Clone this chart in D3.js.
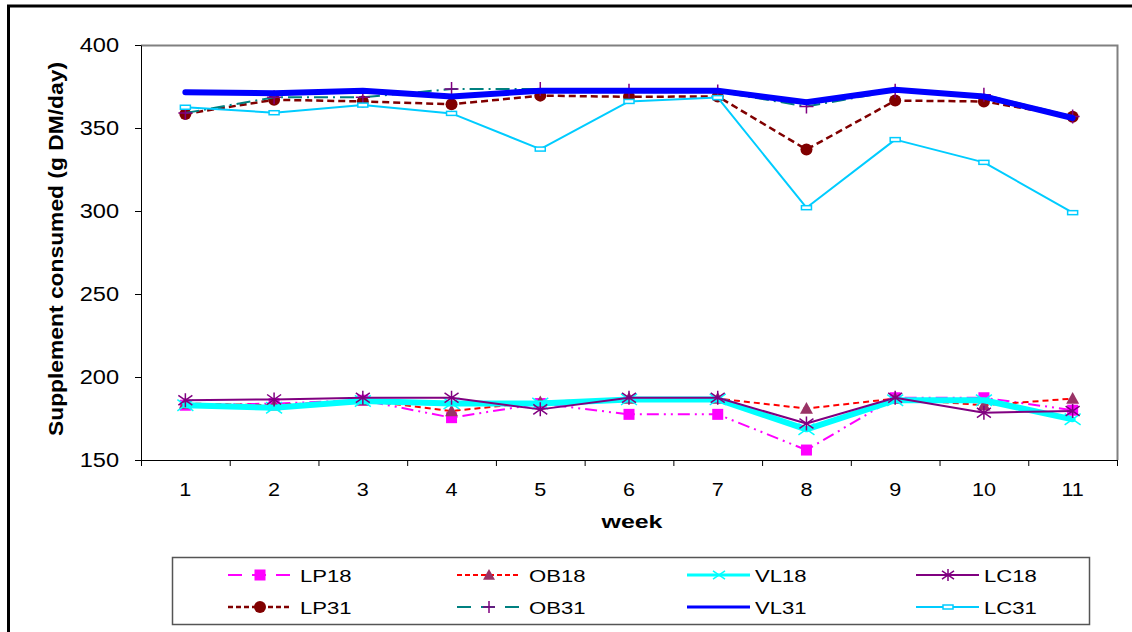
<!DOCTYPE html>
<html><head><meta charset="utf-8">
<script src="https://cdn.jsdelivr.net/npm/d3@7"></script>
<style>body{margin:0;background:#fff;} svg{display:block;font-family:"Liberation Sans",Arial,sans-serif;}</style>
</head><body>
<svg id="c" width="1132" height="632"></svg>
<script>
const weeks = [1,2,3,4,5,6,7,8,9,10,11];
const yTicks = [150,200,250,300,350,400];
const LP18 = [183,184,186,175.5,184,177.5,177.5,156,187.5,187.5,180];
const OB18 = [184,183,186,179.5,185,187,187,181,187,183,187];
const VL18 = [183,181.5,185.5,184,184,186.5,186.5,168.5,186,186,174.5];
const LC18 = [186,186.5,187.5,187.5,180.5,187.5,187.5,172,187.5,178.5,179.5];
const LP31 = [358.5,367,366,364.3,369.5,368.8,369,337,366.5,366,356.8];
const OB31 = [359,368.5,368.5,373.5,373.5,372.5,372,363,372.5,370,357];
const VL31 = [371.5,371,372.5,369,372.5,372.5,372.5,365.5,373,369,356];
const LC31 = [362.5,359.2,363.8,358.8,337.3,366,368.3,302,343,329.3,299];
const seriesNames = ["LP18","OB18","VL18","LC18","LP31","OB31","VL31","LC31"];
const seriesData = [LP18,OB18,VL18,LC18,LP31,OB31,VL31,LC31];

const styles = {
  LP18:{stroke:"#FF00FF",w:2,dash:"12,5,2,5,2,5",marker:"square",mfill:"#FF00FF",ms:11},
  OB18:{stroke:"#FF0000",w:2,dash:"6,4",marker:"triangle",mfill:"#993366",ms:13},
  VL18:{stroke:"#00FFFF",w:6,dash:null,marker:"x",mfill:"#00FFFF",ms:16},
  LC18:{stroke:"#800080",w:2,dash:null,marker:"asterisk",mfill:"#800080",ms:14},
  LP31:{stroke:"#800000",w:2.5,dash:"7,4",marker:"circle",mfill:"#800000",ms:12},
  OB31:{stroke:"#008080",w:2,dash:"14,5,2,5",marker:"plus",mfill:"#800080",ms:14},
  VL31:{stroke:"#0000FF",w:6,dash:null,marker:null,mfill:"#0000FF",ms:0},
  LC31:{stroke:"#00CCFF",w:2,dash:null,marker:"dash",mfill:"#00CCFF",ms:10}
};

const svg = d3.select("#c");
svg.append("line").attr("x1",8.5).attr("x2",8.5).attr("y1",5).attr("y2",632).attr("stroke","#000").attr("stroke-width",3);
svg.append("line").attr("x1",7).attr("x2",1132).attr("y1",6).attr("y2",6).attr("stroke","#000").attr("stroke-width",3);

const L=141, R=1117, T=45, B=460;
const x = d3.scaleBand().domain(weeks).range([L,R]).padding(0);
const y = d3.scaleLinear().domain([150,400]).range([B,T]);
const cx = d => x(d)+x.bandwidth()/2;

svg.append("path").attr("d",`M${L},${T+0.5}H${R+0.5}V${B}`).attr("fill","none").attr("stroke","#808080").attr("stroke-width",2);

function stretch(sel,f){ sel.each(function(){ const w=this.getComputedTextLength(); d3.select(this).attr("textLength",w*f).attr("lengthAdjust","spacingAndGlyphs");}); }

const ya = svg.append("g").attr("transform",`translate(${L},0)`).call(d3.axisLeft(y).tickValues(yTicks).tickSize(6).tickSizeOuter(0));
ya.select(".domain").attr("stroke","#000");
ya.selectAll("line").attr("stroke","#000");
ya.selectAll("text").attr("font-size",20).attr("fill","#000").attr("x",-22).attr("font-family","Liberation Sans, Arial, sans-serif").call(stretch,1.18);

const xa = svg.append("g").attr("transform",`translate(0,${B})`).call(d3.axisBottom(x).tickSize(0).tickSizeOuter(0));
xa.select(".domain").attr("stroke","#000");
xa.selectAll("text").attr("font-size",18).attr("fill","#000").attr("dy",0).attr("y",36).attr("font-family","Liberation Sans, Arial, sans-serif").call(stretch,1.2);
const bounds = weeks.map(w=>x(w)).concat([R]);
svg.append("g").selectAll("line").data(bounds).join("line")
  .attr("x1",d=>d+0.5).attr("x2",d=>d+0.5).attr("y1",B).attr("y2",B+6).attr("stroke","#000");

svg.append("text").attr("transform",`translate(63,249) rotate(-90)`).attr("text-anchor","middle")
  .attr("font-size",20).attr("font-weight","bold").attr("textLength",374).attr("lengthAdjust","spacingAndGlyphs")
  .text("Supplement consumed (g DM/day)");
svg.append("text").attr("x",632).attr("y",528).attr("text-anchor","middle").attr("font-size",18).attr("font-weight","bold")
  .attr("textLength",61).attr("lengthAdjust","spacingAndGlyphs").text("week");

function drawMarker(g,type,px,py,s,fill){
  const h=s/2;
  if(type==="square") g.append("rect").attr("x",px-h).attr("y",py-h).attr("width",s).attr("height",s).attr("fill",fill);
  else if(type==="triangle") g.append("path").attr("d",`M${px},${py-h}L${px+h},${py+h*0.8}L${px-h},${py+h*0.8}Z`).attr("fill",fill);
  else if(type==="circle") g.append("circle").attr("cx",px).attr("cy",py).attr("r",h).attr("fill",fill);
  else if(type==="x") g.append("path").attr("d",`M${px-h},${py-h*0.7}L${px+h},${py+h*0.7}M${px-h},${py+h*0.7}L${px+h},${py-h*0.7}`).attr("stroke",fill).attr("stroke-width",1.5).attr("fill","none");
  else if(type==="asterisk") g.append("path").attr("d",`M${px-h},${py-h*0.7}L${px+h},${py+h*0.7}M${px-h},${py+h*0.7}L${px+h},${py-h*0.7}M${px},${py-h}L${px},${py+h}`).attr("stroke",fill).attr("stroke-width",1.5).attr("fill","none");
  else if(type==="plus") g.append("path").attr("d",`M${px-h},${py}L${px+h},${py}M${px},${py-h}L${px},${py+h}`).attr("stroke",fill).attr("stroke-width",1.5).attr("fill","none");
  else if(type==="dash") g.append("rect").attr("x",px-h).attr("y",py-2).attr("width",s).attr("height",4).attr("fill","#fff").attr("stroke",fill).attr("stroke-width",1.5);
}

const line = d3.line().x((d,i)=>cx(weeks[i])).y(d=>y(d));
const plot = svg.append("g");
seriesNames.forEach((name,k)=>{
  const st=styles[name], data=seriesData[k];
  const g=plot.append("g");
  g.append("path").attr("d",line(data)).attr("fill","none").attr("stroke",st.stroke).attr("stroke-width",st.w)
   .attr("stroke-dasharray",st.dash).attr("stroke-linejoin","round").attr("stroke-linecap",st.w>4?"round":"butt");
  if(st.marker) data.forEach((v,i)=>drawMarker(g,st.marker,cx(weeks[i]),y(v),st.ms,st.mfill));
});

const lg = svg.append("g");
lg.append("rect").attr("x",172.5).attr("y",557.5).attr("width",917).attr("height",67).attr("fill","#fff").attr("stroke","#555").attr("stroke-width",1.5);
const colX = [228,457,687,916];
const rowY = [575,607];
seriesNames.forEach((name,k)=>{
  const st=styles[name];
  const lx=colX[k%4], ly=rowY[Math.floor(k/4)];
  const g=lg.append("g");
  g.append("line").attr("x1",lx).attr("x2",lx+63).attr("y1",ly).attr("y2",ly).attr("stroke",st.stroke)
    .attr("stroke-width",Math.min(st.w,3)).attr("stroke-dasharray",st.dash? (name==="LP18"||name==="OB31"?"14,10":"5,3"):null);
  if(st.marker) drawMarker(g,st.marker,lx+32,ly,Math.min(st.ms,12),st.mfill);
  g.append("text").attr("x",lx+(k%4<2?72:68)).attr("y",ly+6.5).attr("font-size",17).attr("fill","#000").text(name).call(stretch,1.3);
});
</script>
</body></html>
